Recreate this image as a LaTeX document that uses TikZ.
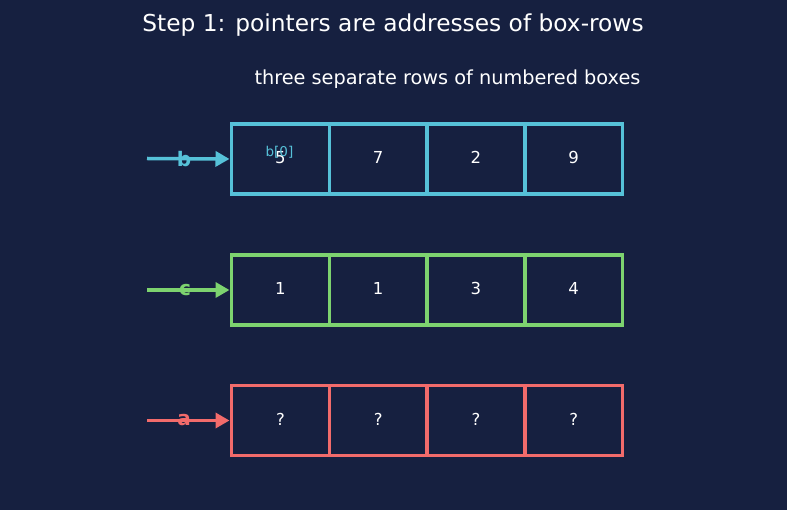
\documentclass[tikz,border=0pt]{standalone}
\usepackage{fontspec}
\setmainfont{DejaVu Sans}
\usetikzlibrary{arrows.meta}
\definecolor{bg}{HTML}{162040}
\definecolor{cb}{HTML}{56C1D8}
\definecolor{cg}{HTML}{7DD36F}
\definecolor{cr}{HTML}{F26B6B}
\begin{document}
\begin{tikzpicture}[x=1pt,y=-1pt,
  cell/.style={draw=#1,line width=3.5pt,minimum width=97.75pt,minimum height=70pt,inner sep=0pt,outer sep=0pt,text=white,font=\fontsize{16.5}{19}\selectfont,anchor=west,text depth=0pt,text height=9pt},
  ptr/.style={draw=#1,line width=3.5pt,shorten >=2pt,-{Triangle[length=14pt,width=15pt]}},
  plabel/.style={text=#1,font=\bfseries\fontsize{20}{22}\selectfont,inner sep=0pt}]
\fill[bg] (0,0) rectangle (787,510);
\useasboundingbox (0,0) rectangle (787,510);
\node[text=white,font=\fontsize{23.3}{26}\selectfont] (title) at (393,25) {Step 1: pointers are addresses of box-rows};
\node[text=white,font=\fontsize{19.3}{22}\selectfont,anchor=east] (sub) at (644,79) {three separate rows of numbered boxes};
% row b
\node[cell=cb] (b1) at (231.5,159) {5};
\node[cell=cb] (b2) at (b1.east) {7};
\node[cell=cb] (b3) at (b2.east) {2};
\node[cell=cb] (b4) at (b3.east) {9};
\node[text=cb,font=\fontsize{13.5}{15}\selectfont] (b0) at (279.5,152.5) {b[0]};
\coordinate (bs) at (147,158.5);
\draw[ptr=cb] (bs) -- (b1.west);
\node[plabel=cb] (bl) at (184,159) {b};
% row c
\node[cell=cg] (c1) at (231.5,290) {1};
\node[cell=cg] (c2) at (c1.east) {1};
\node[cell=cg] (c3) at (c2.east) {3};
\node[cell=cg] (c4) at (c3.east) {4};
\coordinate (cs) at (147,290);
\draw[ptr=cg] (cs) -- (c1.west);
\node[plabel=cg] (cl) at (185,290) {c};
% row a
\node[cell=cr] (a1) at (231.5,420.5) {?};
\node[cell=cr] (a2) at (a1.east) {?};
\node[cell=cr] (a3) at (a2.east) {?};
\node[cell=cr] (a4) at (a3.east) {?};
\coordinate (as) at (147,420.5);
\draw[ptr=cr] (as) -- (a1.west);
\node[plabel=cr] (al) at (184,420.5) {a};
\end{tikzpicture}
\end{document}
